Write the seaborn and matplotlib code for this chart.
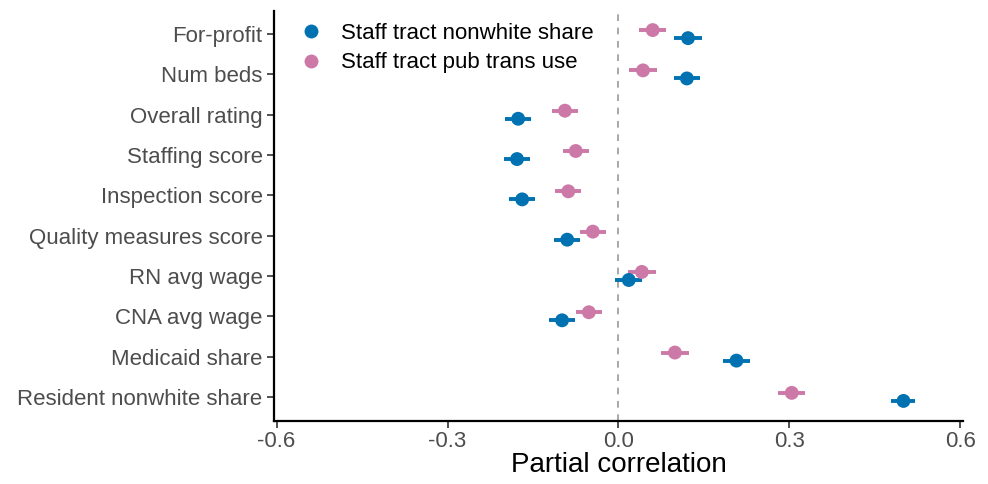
import numpy as np
import pandas as pd
import seaborn as sns
import matplotlib.pyplot as plt

# data
variables = ['For-profit', 'Num beds', 'Overall rating', 'Staffing score', 'Inspection score',
             'Quality measures score', 'RN avg wage', 'CNA avg wage', 'Medicaid share',
             'Resident nonwhite share']
series = ['Staff tract nonwhite share', 'Staff tract pub trans use']
nonwhite_est = [0.122, 0.120, -0.176, -0.178, -0.169, -0.090, 0.018, -0.099, 0.207, 0.500]
nonwhite_ci = [0.024, 0.023, 0.023, 0.023, 0.023, 0.023, 0.024, 0.023, 0.023, 0.021]
transit_est = [0.060, 0.043, -0.094, -0.075, -0.088, -0.045, 0.041, -0.052, 0.099, 0.304]
transit_ci = [0.024, 0.024, 0.023, 0.023, 0.023, 0.023, 0.024, 0.023, 0.024, 0.024]

colors = {'Staff tract nonwhite share': '#0072B2', 'Staff tract pub trans use': '#CC79A7'}
offsets = {'Staff tract nonwhite share': 0.1, 'Staff tract pub trans use': -0.1}

df = pd.concat([
    pd.DataFrame({'variable': variables, 'series': series[0], 'est': nonwhite_est, 'ci': nonwhite_ci}),
    pd.DataFrame({'variable': variables, 'series': series[1], 'est': transit_est, 'ci': transit_ci}),
], ignore_index=True)
df['ypos'] = df['variable'].map({v: i for i, v in enumerate(variables)}) + df['series'].map(offsets)

sns.set_style('white')
plt.rcParams['font.family'] = ['Liberation Sans', 'DejaVu Sans']

fig = plt.figure(figsize=(9.88, 4.84), dpi=100)
ax = fig.add_axes([0.277, 0.130, 0.698, 0.847])

ax.axvline(0, color='#999999', linestyle=(0, (4, 4)), linewidth=1.2, zorder=1)

for s in series:
    d = df[df['series'] == s]
    ax.errorbar(d['est'], d['ypos'], xerr=d['ci'], fmt='none', ecolor=colors[s],
                elinewidth=2.8, capsize=0, zorder=2)

sns.scatterplot(data=df, x='est', y='ypos', hue='series', hue_order=series, palette=colors,
                s=100, linewidth=0, ax=ax, zorder=3)

ax.set_xlim(-0.605, 0.605)
ax.set_ylim(9.6, -0.57)
ax.set_xticks([-0.6, -0.3, 0.0, 0.3, 0.6])
ax.set_xticklabels(['-0.6', '-0.3', '0.0', '0.3', '0.6'])
ax.set_yticks(range(len(variables)))
ax.set_yticklabels(variables)

ax.tick_params(axis='both', labelsize=16, labelcolor='#4D4D4D', color='#333333',
               length=5, width=1.2, direction='out', left=True, bottom=True)
ax.tick_params(axis='y', pad=3)
ax.tick_params(axis='x', pad=2)

for side in ['top', 'right']:
    ax.spines[side].set_visible(False)
for side in ['left', 'bottom']:
    ax.spines[side].set_linewidth(1.6)
    ax.spines[side].set_color('black')

ax.set_xlabel('Partial correlation', fontsize=20, color='black', labelpad=0)
ax.set_ylabel('')

leg = ax.legend(loc='upper left', bbox_to_anchor=(0.0, 1.01), frameon=False, fontsize=16,
                handletextpad=0.35, labelspacing=0.4, borderaxespad=0.3)
for h in leg.legend_handles:
    h.set_markersize(10)
for t in leg.get_texts():
    t.set_color('black')

fig.savefig('out.png', dpi=100)
